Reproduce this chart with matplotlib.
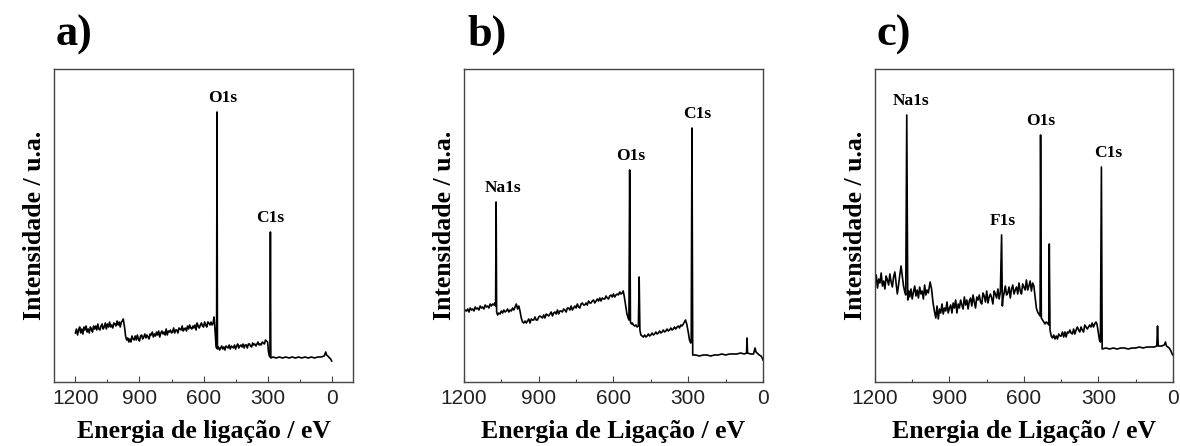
"""
XPS survey spectra (a, b, c) - recreated figure
"""

import numpy as np
import matplotlib.pyplot as plt
from matplotlib.ticker import MultipleLocator

plt.rcParams['font.family'] = ['Liberation Serif', 'DejaVu Serif']

# ---------------- data (binding energy in eV, intensity in a.u.) ----------------
energy_a = [1200, 1195, 1190, 1185, 1180, 1175, 1170, 1165, 1160, 1155, 1150, 1145, 1140,
            1135, 1130, 1125, 1120, 1115, 1110, 1105, 1100, 1095, 1090, 1085, 1080, 1075,
            1070, 1065, 1060, 1055, 1050, 1045, 1040, 1035, 1030, 1025, 1020, 1015, 1010,
            1005, 1000, 995, 990, 985, 980, 976, 970, 965, 960,
            955, 950, 945, 940, 935, 930, 925, 920, 915, 910, 905, 900, 895, 890, 885, 880,
            875, 870, 865, 860, 855, 850, 845, 840, 835, 830, 825, 820, 815, 810, 805, 800,
            795, 790, 785, 780, 775, 770, 765, 760, 755, 750, 745, 740, 735, 730, 725, 720,
            715, 710, 705, 700, 695, 690, 685, 680, 675, 670, 665, 660, 655, 650, 645, 640,
            635, 630, 625, 620, 615, 610, 605, 600, 595, 590, 585, 580, 575, 570, 565, 560,
            555, 551, 547, 542, 539, 537, 535,
            530, 525, 520, 515, 510, 505, 500, 495, 490, 485, 480, 475, 470, 465, 460, 455,
            450, 445, 440, 435, 430, 425, 420, 415, 410, 405, 400, 395, 390, 385, 380, 375,
            370, 365, 360, 355, 350, 345, 340, 335, 330, 325, 320, 315, 310, 305, 300, 296,
            292, 289, 287, 285, 275, 260, 245, 230, 215, 200, 185, 170, 155, 140, 125, 110,
            95, 80, 65, 50, 35, 28, 24, 18, 10, 5, 0]
intensity_a = [49, 53, 47, 52, 55, 49, 53, 48, 55, 52, 56, 50, 53,
               49, 55, 53, 50, 56, 53, 56, 52, 58, 53, 52, 56, 58,
               53, 55, 59, 53, 58, 55, 60, 55, 57, 54, 59, 58, 56,
               61, 57, 60, 55, 60, 61, 63, 55, 46, 42,
               44, 40, 43, 40, 46, 43, 42, 46, 42, 47, 43, 41, 46, 47, 43, 45,
               48, 44, 47, 45, 43, 48, 47, 50, 45, 48, 46, 50, 47, 51, 45, 49,
               51, 48, 50, 47, 53, 47, 51, 50, 52, 49, 50, 54, 49, 52, 52, 49,
               54, 53, 52, 56, 51, 53, 54, 51, 56, 53, 57, 54, 53, 56, 54, 57,
               52, 59, 56, 54, 57, 59, 56, 55, 60, 57, 55, 60, 59, 57, 60, 57,
               59, 65, 54, 38, 34, 270, 33,
               35, 32, 34, 36, 33, 35, 32, 36, 35, 34, 37, 33, 36, 35, 34, 37,
               33, 36, 38, 34, 36, 37, 35, 38, 34, 37, 37, 34, 38, 38, 36, 35,
               39, 37, 38, 36, 38, 40, 37, 38, 37, 40, 39, 38, 42, 41, 40, 30,
               26, 25, 150, 24, 25, 24, 25, 24, 25, 24, 25, 24, 25, 24, 25, 24,
               25, 24, 25, 25, 26, 30, 27, 26, 24, 23, 21]
peaks_a = ['O1s', 'C1s']
peak_e_a = [537, 287]
peak_dx_a = [4, 0]

energy_b = [1200, 1195, 1190, 1185, 1180, 1175, 1170, 1165, 1160, 1155, 1150, 1145, 1140,
            1135, 1130, 1125, 1120, 1115, 1110, 1105, 1100, 1095, 1090, 1085, 1080, 1076,
            1073, 1071, 1069, 1065, 1060, 1055, 1050, 1045, 1040, 1035, 1030, 1025, 1020,
            1015, 1010, 1005, 1000, 995, 990, 985, 980, 976, 970, 965, 960,
            955, 950, 945, 940, 935, 930, 925, 920, 915, 910, 905, 900, 895, 890, 885, 880,
            875, 870, 865, 860, 855, 850, 845, 840, 835, 830, 825, 820, 815, 810, 805, 800,
            795, 790, 785, 780, 775, 770, 765, 760, 755, 750, 745, 740, 735, 730, 725, 720,
            715, 710, 705, 700, 695, 690, 685, 680, 675, 670, 665, 660, 655, 650, 645, 640,
            635, 630, 625, 620, 615, 610, 605, 600, 595, 590, 585, 580, 575, 570, 565, 561,
            557, 552, 546, 541, 538, 535, 532, 528, 524, 520, 515, 510, 505, 500, 497, 494,
            490, 485, 480, 475, 470, 465, 460, 455, 450, 445, 440, 435, 430, 425, 420, 415,
            410, 405, 400, 395, 390, 385, 380, 375, 370, 365, 360, 355, 350, 345, 340, 335,
            330, 325, 320, 315, 311, 306, 300, 295, 290, 288, 285, 282, 270, 255, 240, 225,
            210, 195, 180, 165, 150, 135, 120, 105, 90, 75, 66, 64, 62, 50, 38, 32, 28, 15,
            8, 3, 0]
intensity_b = [70, 72, 71, 73, 70, 74, 72, 73, 71, 75, 73, 74, 72,
               76, 74, 75, 73, 77, 75, 76, 74, 78, 76, 78, 77, 79,
               76, 180, 70, 67, 69, 68, 71, 69, 72, 70, 71, 73, 70,
               72, 71, 74, 72, 75, 78, 73, 76, 72, 64, 60, 59,
               61, 59, 61, 63, 59, 63, 62, 62, 65, 62, 62, 65, 66, 65, 64, 67,
               64, 68, 67, 66, 68, 70, 66, 69, 70, 68, 72, 68, 71, 71, 70, 73,
               72, 70, 74, 74, 72, 76, 72, 74, 76, 74, 78, 75, 74, 78, 79, 77,
               77, 79, 77, 81, 79, 79, 81, 82, 79, 81, 83, 81, 84, 81, 84, 83,
               83, 86, 84, 83, 86, 87, 85, 88, 85, 87, 88, 87, 90, 88, 89, 91,
               86, 78, 68, 64, 62, 212, 60, 58, 59, 57, 56, 57, 55, 56, 105, 52,
               47, 46, 45, 47, 45, 46, 48, 46, 47, 49, 47, 48, 50, 48, 49, 51,
               49, 50, 52, 50, 51, 53, 51, 52, 54, 52, 53, 55, 53, 55, 56, 54,
               57, 56, 58, 60, 62, 58, 50, 42, 39, 40, 254, 27, 27, 26, 27, 27,
               26, 27, 27, 28, 27, 28, 28, 28, 29, 28, 29, 44, 29, 28, 28, 34, 30, 27,
               26, 24, 22]
peaks_b = ['Na1s', 'O1s', 'C1s']
peak_e_b = [1071, 535, 285]
peak_dx_b = [5, 1, 4]

energy_c = [1200, 1195, 1190, 1185, 1180, 1175, 1170, 1165, 1160, 1155, 1150, 1145, 1140,
            1135, 1130, 1125, 1120, 1115, 1110, 1105, 1100, 1095, 1090, 1085, 1080, 1076,
            1072, 1068, 1064, 1060, 1055, 1050, 1045, 1040, 1035, 1030, 1025, 1020, 1015,
            1010, 1005, 1000, 995, 990, 985, 978, 972, 966,
            960, 955, 950, 945, 940, 935, 930, 925, 920, 915, 910, 905, 900, 895, 890, 885,
            880, 875, 870, 865, 860, 855, 850, 845, 840, 835, 830, 825, 820, 815, 810, 805,
            800, 795, 790, 785, 780, 775, 770, 765, 760, 755, 750, 745, 740, 735, 730, 725,
            720, 715, 710, 705, 700, 695, 690, 687, 685, 680, 675, 670, 665, 660, 655, 650,
            645, 640, 635, 630, 625, 620, 615, 610, 605, 600, 595, 590, 585, 580, 575, 570,
            565, 560, 555, 550, 545, 540, 535, 533, 530,
            525, 520, 515, 510, 505, 500, 498, 495, 490,
            485, 480, 475, 470, 465, 460, 455, 450, 445, 440, 435, 430, 425, 420, 415, 410,
            405, 400, 395, 390, 385, 380, 375, 370, 365, 360, 355, 350, 345, 340, 335, 330,
            325, 320, 315, 310, 306, 302, 296, 292, 288, 285, 270, 255, 240, 225, 210, 195,
            180, 165, 150, 135, 120, 105, 90, 75, 65, 62, 59, 45, 35, 30, 26, 15, 8, 3, 0]
intensity_c = [98, 107, 94, 103, 99, 109, 96, 101, 93, 106, 102, 97, 108,
               100, 95, 105, 110, 99, 88, 97, 107, 116, 106, 96, 90, 87,
               267, 82, 91, 85, 93, 83, 90, 96, 86, 92, 84, 95, 88,
               91, 83, 97, 87, 92, 89, 100, 93, 79,
               70, 64, 76, 63, 73, 69, 78, 68, 74, 71, 80, 69, 74, 77, 69, 79,
               74, 82, 69, 78, 74, 82, 77, 73, 85, 77, 82, 73, 81, 84, 76, 87,
               80, 74, 85, 82, 87, 80, 78, 89, 86, 80, 91, 79, 85, 88, 84, 78,
               91, 88, 84, 93, 83, 90, 147, 76, 83, 89, 96, 87, 89, 95, 84, 93,
               97, 88, 92, 95, 88, 99, 91, 88, 98, 95, 92, 102, 92, 96, 101, 91,
               99, 96, 85, 74, 70, 68, 66, 247, 64,
               62, 60, 58, 60, 59, 57, 138, 52, 46,
               44, 47, 43, 46, 43, 48, 46, 46, 50, 45, 50, 45, 50, 49, 52, 49,
               48, 53, 48, 52, 55, 52, 50, 55, 52, 50, 57, 55, 53, 55, 57, 55,
               59, 55, 58, 60, 58, 52, 42, 40, 215, 33, 34, 33, 34, 33, 34, 34,
               33, 34, 34, 35, 34, 35, 35, 35, 36, 56, 36, 36, 37, 40, 36, 34, 31, 28, 27]
peaks_c = ['Na1s', 'F1s', 'O1s', 'C1s']
peak_e_c = [1072, 690, 533, 288]
peak_dx_c = [3, 1, 0, 5]

panel_tags = ['a)', 'b)', 'c)']
xlabels = ['Energia de ligação / eV', 'Energia de Ligação / eV', 'Energia de Ligação / eV']
xlims = [(1300, -100), (1200, 0), (1200, 0)]
xticks = [1200, 900, 600, 300, 0]

# axes rectangles in figure fraction
positions = [[0.0458, 0.1435, 0.2534, 0.7018],
             [0.3932, 0.1435, 0.2534, 0.7018],
             [0.7415, 0.1435, 0.2525, 0.7018]]
tag_x = [0.047, 0.396, 0.743]


def draw_panel(fig, pos, energy, intensity, names, peak_e, peak_dx, xlim, xlabel):
    ax = fig.add_axes(pos)
    energy = np.array(energy)
    intensity = np.array(intensity)
    ax.plot(energy, intensity, color='black', linewidth=1.2)

    # peak labels sit just above the top of each line
    for name, e, dx in zip(names, peak_e, peak_dx):
        top = intensity[energy == e][0]
        ax.annotate(name, xy=(e, top), xytext=(dx, 7), textcoords='offset points',
                    ha='center', va='baseline', fontsize=12.5, fontweight='bold')

    ax.set_xlim(*xlim)
    ax.set_ylim(0, 313)
    ax.set_xticks(xticks)
    ax.xaxis.set_minor_locator(MultipleLocator(150))
    ax.set_yticks([])
    ax.tick_params(axis='x', which='major', direction='in', length=4, width=0.8,
                   color='#444444', labelsize=15, labelcolor='#222222', pad=5)
    ax.tick_params(axis='x', which='minor', direction='in', length=2.5, width=0.8,
                   color='#444444')
    for lab in ax.get_xticklabels():
        lab.set_fontfamily('Liberation Sans')
    for sp in ax.spines.values():
        sp.set_color('#444444')
        sp.set_linewidth(1.0)

    ax.set_xlabel(xlabel, fontsize=18.5, fontweight='bold', labelpad=9)
    ax.set_ylabel('Intensidade / u.a.', fontsize=18.5, fontweight='bold', labelpad=6)
    return ax


fig = plt.figure(figsize=(11.8, 4.46), dpi=100)

data = [(energy_a, intensity_a, peaks_a, peak_e_a, peak_dx_a),
        (energy_b, intensity_b, peaks_b, peak_e_b, peak_dx_b),
        (energy_c, intensity_c, peaks_c, peak_e_c, peak_dx_c)]

for i, (e, y, names, pe, pdx) in enumerate(data):
    draw_panel(fig, positions[i], e, y, names, pe, pdx, xlims[i], xlabels[i])
    fig.text(tag_x[i], 0.899, panel_tags[i], fontsize=32, fontweight='bold',
             ha='left', va='baseline')

fig.savefig('out.png', dpi=100)
